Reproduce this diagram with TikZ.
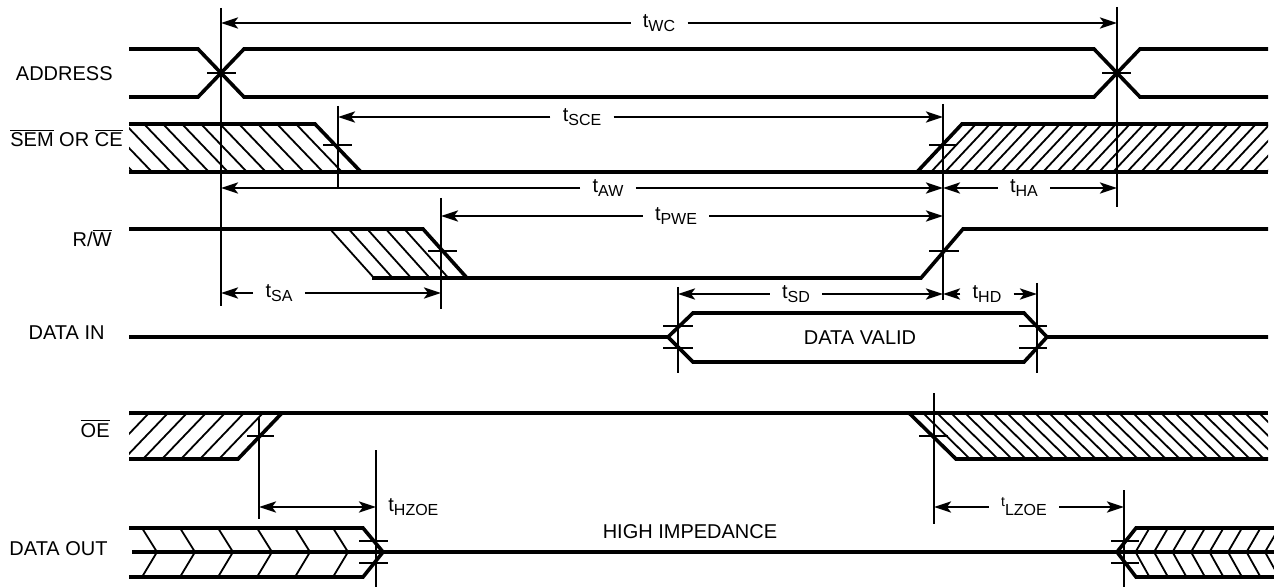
\documentclass[tikz,border=0pt]{standalone}
\usepackage{fontspec}
\setmainfont{Liberation Sans}
\usetikzlibrary{arrows.meta}
\newcommand{\tsub}[1]{t\raisebox{-1.8pt}{\footnotesize #1}}
\newcommand{\ovl}[1]{$\overline{\mbox{#1}}$}

\tikzset{
  sig/.style={line width=1.8pt},
  hatch/.style={line width=0.9pt},
  marker/.style={line width=0.9pt},
  dim/.style={line width=1.3pt,->},
  lbl/.style={inner xsep=6pt,inner ysep=0pt},
  siglbl/.style={anchor=base east,inner sep=0pt},
}

\begin{document}
\begin{tikzpicture}[x=0.5pt,y=-0.5pt,>={Stealth[length=8.5pt,width=5.5pt,inset=2pt]}]
\useasboundingbox (0,0) rectangle (1274,588);

% signal names
\node[siglbl] (addr) at (113,81) {ADDRESS};
\node[siglbl] (sem) at (123,147) {\ovl{SEM} OR \ovl{CE}};
\node[siglbl] (rw) at (112,247) {R/\ovl{W}};
\node[siglbl] (din) at (105,339) {DATA IN};
\node[siglbl] (oe) at (110,437) {\ovl{OE}};
\node[siglbl] (dout) at (108,555) {DATA OUT};

% ADDRESS
\draw[sig] (129,49) -- (198,49) -- (244,97) -- (1094,97) -- (1140,49) -- (1268,49);
\draw[sig] (129,97) -- (198,97) -- (244,49) -- (1094,49) -- (1140,97) -- (1268,97);
\draw[marker] (207,73) -- (236,73);
\draw[marker] (1102,73) -- (1131,73);

% SEM or CE
\begin{scope}
\clip (129,124) -- (315,124) -- (361,172) -- (129,172) -- cycle;
\foreach \k in {1,...,12}
  \draw[hatch] ({315-19*\k},124) -- ++(46,48);
\end{scope}
\begin{scope}
\clip (917,172) -- (962,124) -- (1268,124) -- (1268,172) -- cycle;
\foreach \k in {1,...,26}
  \draw[hatch] ({917+14*\k},172) -- ++(45,-48);
\end{scope}
\draw[sig] (129,124) -- (315,124) -- (361,172);
\draw[sig] (129,172) -- (1268,172);
\draw[sig] (917,172) -- (962,124) -- (1268,124);
\draw[marker] (323,145) -- (352,145);
\draw[marker] (929,145) -- (957,145);

% R/W
\foreach \k in {1,...,5}
  \draw[hatch] ({423-18.6*\k},229) -- ++(44,49);
\draw[sig] (129,229) -- (423,229) -- (467,278);
\draw[sig] (372,278) -- (921,278) -- (963,229) -- (1268,229);
\draw[marker] (428,251) -- (457,251);
\draw[marker] (929,251) -- (959,251);

% DATA IN
\draw[sig] (129,337) -- (668,337) -- (693,313) -- (1024,313) -- (1047,337) -- (1268,337);
\draw[sig] (668,337) -- (693,362) -- (1024,362) -- (1047,337);
\draw[marker] (663,326) -- (693,326);
\draw[marker] (663,348) -- (693,348);
\draw[marker] (1019,326) -- (1047,326);
\draw[marker] (1019,348) -- (1047,348);
\node[inner sep=0pt,anchor=base] (valid) at (860,344) {DATA VALID};

% OE
\begin{scope}
\clip (129,413) -- (282,413) -- (238,459) -- (129,459) -- cycle;
\foreach \k in {1,...,9}
  \draw[hatch] ({238-19*\k},459) -- ++(44,-46);
\end{scope}
\begin{scope}
\clip (909,413) -- (1268,413) -- (1268,459) -- (956,459) -- cycle;
\foreach \k in {1,...,26}
  \draw[hatch] ({909+14*\k},413) -- ++(47,46);
\end{scope}
\draw[sig] (129,413) -- (1268,413);
\draw[sig] (129,459) -- (238,459) -- (282,413);
\draw[sig] (909,413) -- (956,459) -- (1268,459);
\draw[marker] (247,436) -- (274,436);
\draw[marker] (919,436) -- (948,436);

% DATA OUT
\foreach \x in {157,195,233,272,310,348}
  \draw[hatch] (\x-15,528) -- (\x,552) -- (\x-15,577);
\foreach \k in {1,...,8}
  \draw[hatch] ({1117+18.5*\k+14},528) -- ({1117+18.5*\k},552) -- ({1117+18.5*\k+14},577);
\draw[sig] (129,528) -- (363,528) -- (383,552) -- (363,577) -- (129,577);
\draw[sig] (132,552) -- (1274,552);
\draw[sig] (1274,528) -- (1136,528) -- (1117,552) -- (1136,577) -- (1274,577);
\draw[marker] (359,541) -- (388,541);
\draw[marker] (359,563) -- (388,563);
\draw[marker] (1111,541) -- (1139,541);
\draw[marker] (1111,563) -- (1139,563);
\node[inner sep=0pt,anchor=base] (hiz) at (690,538) {HIGH IMPEDANCE};

% reference lines
\coordinate (m1) at (221,8);
\coordinate (m2) at (338,106);
\coordinate (m3) at (943,104);
\coordinate (m4) at (1117,7);
\coordinate (m5) at (441,198);
\coordinate (m6) at (678,287);
\coordinate (m7) at (1037,283);
\coordinate (m8) at (259,417);
\coordinate (m9) at (376,450);
\coordinate (m10) at (934,393);
\coordinate (m11) at (1124,490);
\draw[marker] (m1) -- (221,306);
\draw[marker] (m2) -- (338,188);
\draw[marker] (m3) -- (943,300);
\draw[marker] (m4) -- (1117,207);
\draw[marker] (m5) -- (441,309);
\draw[marker] (m6) -- (678,373);
\draw[marker] (m7) -- (1037,373);
\draw[marker] (m8) -- (259,519);
\draw[marker] (m9) -- (376,587);
\draw[marker] (m10) -- (934,524);
\draw[marker] (m11) -- (1124,587);

% timing parameters
\node[lbl] (twc) at (659,23) {\tsub{WC}};
\draw[dim] (twc) -- (twc -| m1);
\draw[dim] (twc) -- (twc -| m4);
\node[lbl] (tsce) at (582,117) {\tsub{SCE}};
\draw[dim] (tsce) -- (tsce -| m2);
\draw[dim] (tsce) -- (tsce -| m3);
\node[lbl] (taw) at (608,188) {\tsub{AW}};
\draw[dim] (taw) -- (taw -| m1);
\draw[dim] (taw) -- (taw -| m3);
\node[lbl] (tha) at (1024,188) {\tsub{HA}};
\draw[dim] (tha) -- (tha -| m3);
\draw[dim] (tha) -- (tha -| m4);
\node[lbl] (tpwe) at (676,216) {\tsub{PWE}};
\draw[dim] (tpwe) -- (tpwe -| m5);
\draw[dim] (tpwe) -- (tpwe -| m3);
\node[lbl] (tsa) at (279,293) {\tsub{SA}};
\draw[dim] (tsa) -- (tsa -| m1);
\draw[dim] (tsa) -- (tsa -| m5);
\node[lbl] (tsd) at (796,294) {\tsub{SD}};
\draw[dim] (tsd) -- (tsd -| m6);
\draw[dim] (tsd) -- (tsd -| m3);
\node[lbl] (thd) at (987,294) {\tsub{HD}};
\draw[dim] (thd) -- (thd -| m3);
\draw[dim] (thd) -- (thd -| m7);
\node[lbl] (tlzoe) at (1024,507) {\footnotesize\raisebox{4.5pt}{\scriptsize t}LZOE};
\draw[dim] (tlzoe) -- (tlzoe -| m10);
\draw[dim] (tlzoe) -- (tlzoe -| m11);
\node[lbl,anchor=west] (thzoe) at (376,507) {\tsub{HZOE}};
\draw[dim,<->] (thzoe.west -| m8) -- (thzoe.west);
\end{tikzpicture}
\end{document}
